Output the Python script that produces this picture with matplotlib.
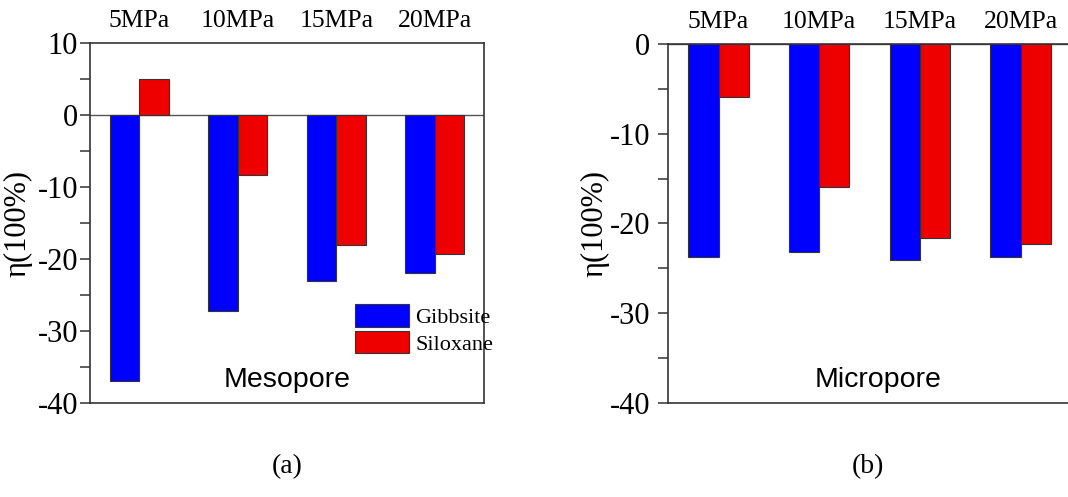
import matplotlib
matplotlib.use("Agg")
import matplotlib.pyplot as plt
import matplotlib.patches as mpatches
from matplotlib.ticker import MultipleLocator
import numpy as np

plt.rcParams["font.family"] = ["Liberation Serif", "DejaVu Serif"]
plt.rcParams["axes.unicode_minus"] = False

PRESSURES = ["5MPa", "10MPa", "15MPa", "20MPa"]
MESO_GIBBSITE = [-36.9, -27.2, -23.0, -21.9]
MESO_SILOXANE = [5.0, -8.3, -18.1, -19.3]
MICRO_GIBBSITE = [-23.8, -23.2, -24.1, -23.8]
MICRO_SILOXANE = [-5.9, -15.9, -21.6, -22.3]

BLUE = "#0000ff"
RED = "#ee0000"
EDGE = "#333333"


def panel(ax, gib, sil, ylim, tag, tagx, ypad):
    x = np.arange(len(PRESSURES))
    w = 0.3
    ax.bar(x - w / 2, gib, w, color=BLUE, edgecolor=EDGE, linewidth=0.8, zorder=2)
    ax.bar(x + w / 2, sil, w, color=RED, edgecolor=EDGE, linewidth=0.8, zorder=2)
    ax.axhline(0, color="#555555", lw=1.0, zorder=1)
    ax.set_xlim(-0.5, 3.5)
    ax.set_ylim(*ylim)
    ax.xaxis.tick_top()
    ax.set_xticks(x)
    ax.set_xticklabels(PRESSURES, fontsize=18.5)
    ax.tick_params(axis="x", length=0, pad=8)
    ax.yaxis.set_major_locator(MultipleLocator(10))
    ax.yaxis.set_minor_locator(MultipleLocator(5))
    ax.tick_params(axis="y", which="both", direction="out", length=7, width=1.1,
                   color=EDGE, labelsize=22, pad=ypad)
    for sp in ax.spines.values():
        sp.set_color(EDGE)
        sp.set_linewidth(1.2)
    ax.set_ylabel("η(100%)", fontsize=22)
    ax.yaxis.set_label_coords(-0.145, 0.5)
    ax.text(tagx, 0.045, tag, transform=ax.transAxes, ha="center", va="baseline",
            fontsize=20.5, family=["Liberation Sans", "DejaVu Sans"])


fig = plt.figure(figsize=(10.68, 4.97), dpi=100)
fig.patch.set_facecolor("white")
ax1 = fig.add_axes([0.0843, 0.189, 0.369, 0.7243])
ax2 = fig.add_axes([0.6257, 0.1897, 0.377, 0.7217])

panel(ax1, MESO_GIBBSITE, MESO_SILOXANE, (-40, 10), "Mesopore", 0.5, 1.5)
panel(ax2, MICRO_GIBBSITE, MICRO_SILOXANE, (-40, 0), "Micropore", 0.52, 6)

handles = [mpatches.Patch(facecolor=BLUE, edgecolor=EDGE, linewidth=0.8, label="Gibbsite"),
           mpatches.Patch(facecolor=RED, edgecolor=EDGE, linewidth=0.8, label="Siloxane")]
ax1.legend(handles=handles, loc="upper left", bbox_to_anchor=(0.673, 0.275),
           frameon=False, fontsize=16, handlelength=2.4, handleheight=1.2,
           labelspacing=0.12, handletextpad=0.3, borderpad=0, borderaxespad=0)

fig.text(287 / 1068, 1 - 467 / 497, "(a)", ha="center", va="center", fontsize=20)
fig.text(868 / 1068, 1 - 467 / 497, "(b)", ha="center", va="center", fontsize=20)

fig.savefig("out.png", dpi=100, facecolor="white")
